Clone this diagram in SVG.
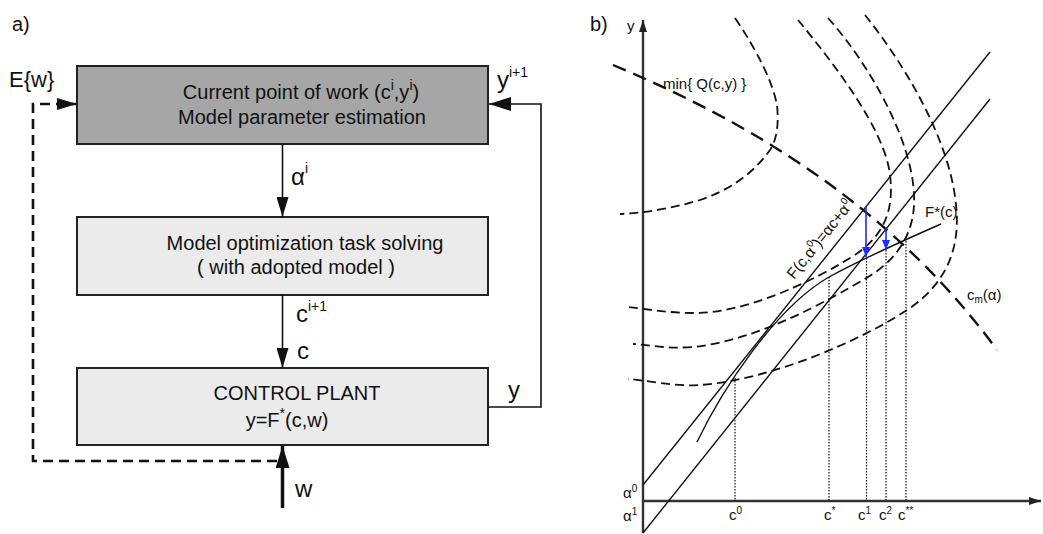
<svg xmlns="http://www.w3.org/2000/svg" width="1043" height="534" viewBox="0 0 1043 534">
  <defs>
    <marker id="ah" viewBox="0 0 20 12" refX="20" refY="6" markerWidth="20" markerHeight="12" markerUnits="userSpaceOnUse" orient="auto">
      <path d="M0,0 L20,6 L0,12 z" fill="#111"/>
    </marker>
    <marker id="ahw" viewBox="0 0 22 14" refX="22" refY="7" markerWidth="22" markerHeight="14" markerUnits="userSpaceOnUse" orient="auto">
      <path d="M0,0 L22,7 L0,14 z" fill="#111"/>
    </marker>
    <marker id="axh" viewBox="0 0 12 8" refX="12" refY="4" markerWidth="12" markerHeight="8" markerUnits="userSpaceOnUse" orient="auto">
      <path d="M0,0 L12,4 L0,8 z" fill="#222"/>
    </marker>
    <marker id="bh" viewBox="0 0 10 8" refX="10" refY="4" markerWidth="10" markerHeight="8" markerUnits="userSpaceOnUse" orient="auto">
      <path d="M0,0 L10,4 L0,8 z" fill="#1f2bff"/>
    </marker>
  </defs>
  <style>
    text { font-family: "Liberation Sans", Arial, sans-serif; fill: #111; }
    .box { stroke: #222; stroke-width: 2; }
    .dark { fill: #a6a6a6; }
    .light { fill: #ebebeb; }
    .t20 { font-size: 20px; text-anchor: middle; }
    .lbl { font-size: 24px; }
    .sup { font-size: 14px; }
    .edge { stroke: #111; stroke-width: 1.6; fill: none; }
    .thick { stroke: #111; stroke-width: 3.5; fill: none; }
    .dash { stroke: #111; stroke-width: 2.6; fill: none; stroke-dasharray: 10 6; }
    .axis { stroke: #333; stroke-width: 2.4; fill: none; }
    .solid { stroke: #111; stroke-width: 1.4; fill: none; }
    .level { stroke: #111; stroke-width: 1.8; fill: none; stroke-dasharray: 9 5; }
    .cm { stroke: #111; stroke-width: 2.4; fill: none; stroke-dasharray: 14 8; }
    .dot { stroke: #111; stroke-width: 1.2; fill: none; stroke-dasharray: 1.5 1.5; }
    .blue { stroke: #1f2bff; stroke-width: 1.6; fill: none; }
    .p { font-size: 15px; }
    .ps { font-size: 10px; }
  </style>

  <rect width="1043" height="534" fill="#fff"/>

  <!-- panel a: block scheme of the adaptive optimisation loop -->
  <text x="12" y="31" font-size="20">a)</text>

  <g id="estimation">
    <rect class="box dark" x="77" y="66" width="411" height="78"/>
    <text class="t20" x="301" y="99">Current point of work (c<tspan class="sup" dy="-9">i</tspan><tspan dy="9">,y</tspan><tspan class="sup" dy="-9">i</tspan><tspan dy="9">)</tspan></text>
    <text class="t20" x="302" y="124">Model parameter estimation</text>
  </g>

  <g id="optimization">
    <rect class="box light" x="77" y="217" width="411" height="78"/>
    <text class="t20" x="305" y="250">Model optimization task solving</text>
    <text class="t20" x="296" y="274">(  with adopted model )</text>
  </g>

  <g id="plant">
    <rect class="box light" x="77" y="368" width="411" height="77"/>
    <text class="t20" x="297" y="400">CONTROL PLANT</text>
    <text class="t20" x="287" y="427">y=F<tspan class="sup" dy="-9">*</tspan><tspan dy="9">(c,w)</tspan></text>
  </g>

  <g id="connectors-a">
    <line class="edge" x1="282.5" y1="144" x2="282.5" y2="217" marker-end="url(#ah)"/>
    <line class="edge" x1="282.5" y1="295" x2="282.5" y2="368" marker-end="url(#ah)"/>
    <line class="thick" x1="282.5" y1="508" x2="282.5" y2="446" marker-end="url(#ahw)"/>
    <polyline class="edge" points="488,407 541,407 541,104 489,104" marker-end="url(#ahw)"/>
    <path class="dash" d="M277,461 H33 V104 H77" marker-end="url(#ah)"/>
  </g>

  <g id="labels-a">
    <text x="9" y="87" font-size="22">E{w}</text>
    <text class="lbl" x="291" y="185">α<tspan class="sup" dy="-12">i</tspan></text>
    <text class="lbl" x="296" y="322">c<tspan class="sup" dy="-11">i+1</tspan></text>
    <text class="lbl" x="297" y="359">c</text>
    <text class="lbl" x="295" y="497">w</text>
    <text class="lbl" x="508" y="398">y</text>
    <text class="lbl" x="497" y="88">y<tspan class="sup" dy="-11">i+1</tspan></text>
  </g>

  <!-- panel b: iterations in the (c, y) plane -->
  <text x="590" y="31" font-size="20">b)</text>

  <g id="axes">
    <line class="axis" x1="643" y1="533" x2="643" y2="20" marker-end="url(#axh)"/>
    <line class="axis" x1="643" y1="501" x2="1041" y2="501" marker-end="url(#axh)"/>
    <text class="p" x="627" y="31">y</text>
  </g>

  <g id="level-sets">
    <path class="level" d="M735,18 Q770,70 777,105 Q780,135 770,150 Q745,185 700,200 Q660,212 620,214"/>
    <path class="level" d="M798,20 C835,65 885,130 890,175 C895,215 880,240 850,258 C815,280 745,314 693,313 C670,313 645,309 628,307"/>
    <path class="level" d="M828,18 C870,65 912,140 914,195 C916,235 895,262 863,280 C830,299 760,340 693,347 C668,349 648,345 633,344"/>
    <path class="level" d="M865,15 C905,65 950,140 956,205 C961,250 945,285 907,310 C860,341 770,380 700,385 C675,387 645,380 628,379"/>
  </g>

  <g id="optimum-curve">
    <path class="cm" d="M613,65 C720,110 880,190 997,350"/>
  </g>

  <g id="lines">
    <line class="solid" x1="643" y1="485" x2="990" y2="52"/>
    <line class="solid" x1="643" y1="533" x2="990" y2="99"/>
    <path class="solid" d="M697,442 C722,390 775,308 829,277 C860,260 900,242 941,224" stroke-width="1.6"/>
  </g>

  <g id="projections">
    <line class="dot" x1="735" y1="378" x2="735" y2="501"/>
    <line class="dot" x1="829" y1="277" x2="829" y2="501"/>
    <line class="dot" x1="866.5" y1="258" x2="866.5" y2="501"/>
    <line class="dot" x1="886" y1="250" x2="886" y2="501"/>
    <line class="dot" x1="906" y1="241" x2="906" y2="501"/>
  </g>

  <g id="corrections">
    <line class="blue" x1="866" y1="206" x2="866" y2="257" marker-end="url(#bh)"/>
    <line class="blue" x1="886" y1="227" x2="886" y2="250" marker-end="url(#bh)"/>
  </g>

  <g id="labels-b">
    <text class="p" x="663" y="89">min{ Q(c,y) }</text>
    <text class="p" x="925" y="217" font-size="16">F*(c)</text>
    <text class="p" x="967" y="300">c<tspan class="ps" dy="3">m</tspan><tspan dy="-3">(α)</tspan></text>
    <text font-size="15.5" transform="translate(794,280) rotate(-51.3)">F(c,α<tspan font-size="10" dy="-7">0</tspan><tspan dy="7">)=αc+α</tspan><tspan font-size="10" dy="-7">0</tspan></text>
    <text class="p" x="623" y="498">α<tspan class="ps" dy="-6">0</tspan></text>
    <text class="p" x="623" y="521">α<tspan class="ps" dy="-6">1</tspan></text>
    <text class="p" x="729" y="520">c<tspan class="ps" dy="-6">0</tspan></text>
    <text class="p" x="824" y="520">c<tspan class="ps" dy="-6">*</tspan></text>
    <text class="p" x="858" y="520">c<tspan class="ps" dy="-6">1</tspan></text>
    <text class="p" x="879" y="520">c<tspan class="ps" dy="-6">2</tspan></text>
    <text class="p" x="898" y="520">c<tspan class="ps" dy="-6">**</tspan></text>
  </g>
</svg>
